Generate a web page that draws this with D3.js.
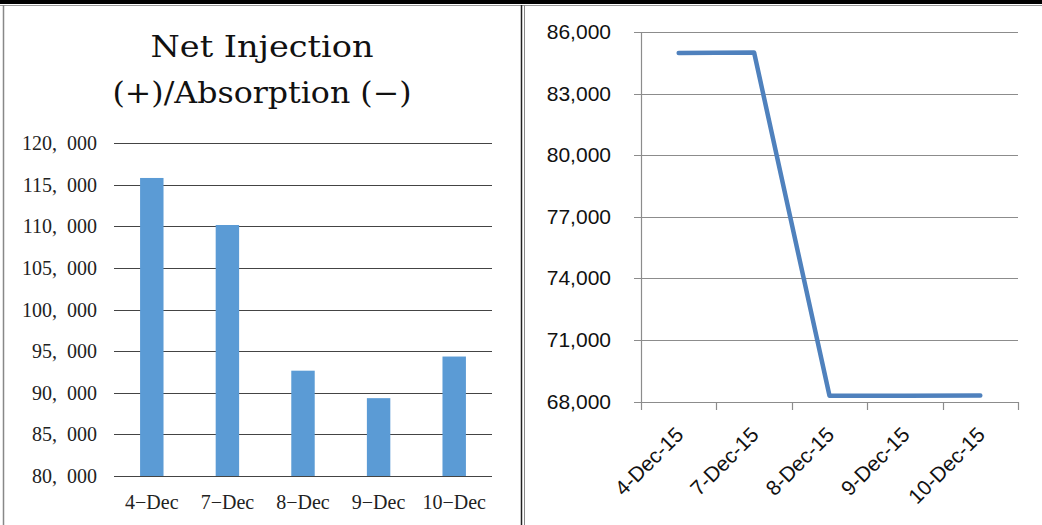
<!DOCTYPE html>
<html>
<head>
<meta charset="utf-8">
<script src="https://cdn.jsdelivr.net/npm/d3@7/dist/d3.min.js"></script>
<style>
  body { margin: 0; background: #fff; }
  svg { display: block; }
</style>
</head>
<body>
<svg id="chart" width="1042" height="525"></svg>
<script>
// left chart: net injection / absorption
var barDays = ['4-Dec', '7-Dec', '8-Dec', '9-Dec', '10-Dec'];
var barValues = [115800, 110150, 92650, 89350, 94350];
var barTicks = [80000, 85000, 90000, 95000, 100000, 105000, 110000, 115000, 120000];
var barTitle = ['Net Injection', '(+)/Absorption (\u2212)'];

// right chart
var lineDays = ['4-Dec-15', '7-Dec-15', '8-Dec-15', '9-Dec-15', '10-Dec-15'];
var lineValues = [84980, 85000, 68280, 68280, 68290];
var lineTicks = [68000, 71000, 74000, 77000, 80000, 83000, 86000];

var svg = d3.select('#chart');

// frames
svg.append('rect').attr('x', 0).attr('y', 0).attr('width', 1042).attr('height', 4).attr('fill', '#000');
svg.append('line').attr('x1', 0).attr('x2', 1042).attr('y1', 5.5).attr('y2', 5.5).attr('stroke', '#999');
svg.append('line').attr('x1', 3.5).attr('x2', 3.5).attr('y1', 5).attr('y2', 525).attr('stroke', '#888').attr('stroke-width', 1.5);
svg.append('line').attr('x1', 521.5).attr('x2', 521.5).attr('y1', 5).attr('y2', 525).attr('stroke', '#222').attr('stroke-width', 1.5);
svg.append('line').attr('x1', 524.5).attr('x2', 524.5).attr('y1', 5).attr('y2', 525).attr('stroke', '#888');

// ---------- left: bars ----------
var serif = '"Liberation Serif", "DejaVu Serif", serif';
var fmtBar = function(d) { return d3.format(',')(d).replace(',', ',\u2002'); };

var xb = d3.scaleBand().domain(barDays).range([114, 492]).paddingInner(0.69).paddingOuter(0.345);
var yb = d3.scaleLinear().domain([80000, 120000]).range([476, 143]);

var left = svg.append('g');

var titleLen = [223, 299];
left.selectAll('.title').data(barTitle).enter().append('text')
  .attr('x', 262).attr('y', function(d, i) { return 57 + i * 46; })
  .attr('text-anchor', 'middle')
  .attr('textLength', function(d, i) { return titleLen[i]; })
  .attr('lengthAdjust', 'spacingAndGlyphs')
  .style('font-family', '"DejaVu Serif", serif')
  .style('font-size', '29px').attr('fill', '#111')
  .text(function(d) { return d; });

left.selectAll('.grid').data(barTicks).enter().append('line')
  .attr('x1', 114).attr('x2', 492)
  .attr('y1', function(d) { return Math.round(yb(d)) + 0.5; })
  .attr('y2', function(d) { return Math.round(yb(d)) + 0.5; })
  .attr('stroke', '#444').attr('stroke-width', 1);

left.selectAll('.ylab').data(barTicks).enter().append('text')
  .attr('x', 97).attr('y', function(d) { return yb(d) + 7; })
  .attr('text-anchor', 'end')
  .style('font-family', serif).style('font-size', '20px').attr('fill', '#222')
  .text(fmtBar);

left.selectAll('.bar').data(barValues).enter().append('rect')
  .attr('x', function(d, i) { return xb(barDays[i]); })
  .attr('width', xb.bandwidth())
  .attr('y', function(d) { return yb(d); })
  .attr('height', function(d) { return yb(80000) - yb(d); })
  .attr('fill', '#5B9BD5');

left.selectAll('.xlab').data(barDays).enter().append('text')
  .attr('x', function(d) { return xb(d) + xb.bandwidth() / 2; })
  .attr('y', 509)
  .attr('text-anchor', 'middle')
  .style('font-family', serif).style('font-size', '20px').attr('fill', '#222')
  .text(function(d) { return d.replace('-', '\u2212'); });

// ---------- right: line ----------
var sans = '"Liberation Sans", Arial, sans-serif';
var xl = d3.scaleBand().domain(lineDays).range([641, 1018]);
var yl = d3.scaleLinear().domain([68000, 86000]).range([401.5, 32]);

var right = svg.append('g');

right.selectAll('.grid').data(lineTicks).enter().append('line')
  .attr('x1', 634).attr('x2', 1018)
  .attr('y1', function(d) { return Math.round(yl(d)) + 0.5; })
  .attr('y2', function(d) { return Math.round(yl(d)) + 0.5; })
  .attr('stroke', '#8c8c8c').attr('stroke-width', 1.2);

right.append('line').attr('x1', 641.5).attr('x2', 641.5).attr('y1', 32).attr('y2', 402)
  .attr('stroke', '#8c8c8c').attr('stroke-width', 1.2);

var bounds = lineDays.map(function(d) { return xl(d); }).concat([1018]);
right.selectAll('.tick').data(bounds).enter().append('line')
  .attr('x1', function(d) { return Math.round(d) + 0.5; })
  .attr('x2', function(d) { return Math.round(d) + 0.5; })
  .attr('y1', 402).attr('y2', 410)
  .attr('stroke', '#8c8c8c').attr('stroke-width', 1.2);

right.selectAll('.ylab').data(lineTicks).enter().append('text')
  .attr('x', 611).attr('y', function(d) { return yl(d) + 7; })
  .attr('text-anchor', 'end')
  .style('font-family', sans).style('font-size', '21px').attr('fill', '#111')
  .text(d3.format(','));

var line = d3.line()
  .x(function(d, i) { return xl(lineDays[i]) + xl.bandwidth() / 2; })
  .y(function(d) { return yl(d); });

right.append('path').datum(lineValues)
  .attr('d', line)
  .attr('fill', 'none').attr('stroke', '#4F81BD')
  .attr('stroke-width', 4.5).attr('stroke-linecap', 'round').attr('stroke-linejoin', 'round');

right.selectAll('.xlab').data(lineDays).enter().append('text')
  .attr('transform', function(d) {
    return 'translate(' + (xl(d) + xl.bandwidth() / 2 + 6) + ',436) rotate(-45)';
  })
  .attr('text-anchor', 'end')
  .style('font-family', sans).style('font-size', '21px').attr('fill', '#111')
  .text(function(d) { return d; });
</script>
</body>
</html>
